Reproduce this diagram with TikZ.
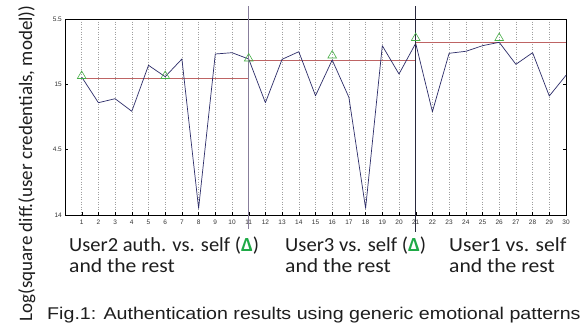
\documentclass[tikz,border=0pt]{standalone}
\usepackage{fontspec}
\setmainfont{Carlito}
\newfontfamily\arialfont{Liberation Sans}
\usetikzlibrary{shapes.geometric}
\definecolor{blueline}{RGB}{45,45,105}
\definecolor{redline}{RGB}{190,100,100}
\definecolor{trigreen}{RGB}{70,175,70}
\definecolor{deltagreen}{RGB}{30,170,70}
\definecolor{sepA}{RGB}{135,125,155}
\definecolor{sepB}{RGB}{40,40,60}
\definecolor{txt}{RGB}{30,30,30}
\tikzset{
  marker/.style={draw=trigreen, regular polygon, regular polygon sides=3, minimum size=10pt, inner sep=0pt, line width=0.6pt},
  gridline/.style={gray!75, dotted, line width=0.5pt},
  ticklab/.style={font=\arialfont\fontsize{6.5}{7}\selectfont, text=gray!40!black, inner sep=0pt},
  caption/.style={font=\fontsize{20}{22}\selectfont, text=txt, inner sep=0pt, anchor=base west, xscale=1.08},
  figcap/.style={font=\arialfont\fontsize{17}{19}\selectfont, text=txt, inner sep=0pt, anchor=base west, xscale=1.155},
}
\newcommand{\gdelta}{{\color{deltagreen}\textbf{Δ}}}
\begin{document}
\begin{tikzpicture}[x=1pt,y=-1pt]
\useasboundingbox[fill=white] (0,0) rectangle (584,324);
% axes box
\begin{scope}[x=16.7pt, xshift=65pt]
  \foreach \i in {1,...,29} \draw[gridline] (\i,19) -- (\i,215);
  \foreach \i in {1,...,30} {
    \draw[line width=0.4pt] (\i,215) -- (\i,212);
    \node[ticklab] (xt\i) at (\i,222) {\i};
  }
  \draw[line width=0.5pt] (0,19) rectangle (30,215);
  \foreach \yy in {84.3,149.3} {
    \draw[line width=0.4pt] (0,\yy) -- (0.2,\yy);
    \draw[line width=0.4pt] (30,\yy) -- (29.8,\yy);
  }
  % red model lines
  \draw[redline, line width=1pt] (1,78.3) -- (11,78.3);
  \draw[redline, line width=1pt] (11,60) -- (21,60);
  \draw[redline, line width=1pt] (21,42) -- (30,42);
  % data line
  \draw[blueline, line width=0.7pt, line join=round] plot coordinates {
    (1,77) (2,102.7) (3,98.7) (4,111.3) (5,65.3) (6,76.7) (7,59) (8,208.3)
    (9,54) (10,52.7) (11,59) (12,102.7) (13,59.3) (14,51.7) (15,95.7)
    (16,60) (17,97.3) (18,208.3) (19,45.7) (20,74) (21,43.3) (22,111.7)
    (23,53.3) (24,51.3) (25,45.7) (26,42.3) (27,64.3) (28,52.7) (29,96) (30,75.3)};
  % separators
  \coordinate (sa1) at (11,6);
  \coordinate (sa2) at (11,229);
  \coordinate (sb1) at (21,6);
  \coordinate (sb2) at (21,232);
  \draw[sepA, line width=1.4pt] (sa1) -- (sa2);
  \draw[sepB, line width=0.8pt] (sb1) -- (sb2);
  % markers
  \node[marker] (m1) at (1,76) {};
  \node[marker] (m6) at (6,76) {};
  \node[marker] (m11) at (11,58.5) {};
  \node[marker] (m16) at (16,55.5) {};
  \node[marker] (m21) at (21,38) {};
  \node[marker] (m26) at (26,38) {};
\end{scope}
% y tick labels
\node[ticklab, anchor=east] (yt1) at (62,19) {5.5};
\node[ticklab, anchor=east] (yt2) at (62,84.3) {15};
\node[ticklab, anchor=east] (yt3) at (62,149.3) {4.5};
\node[ticklab, anchor=east] (yt4) at (62,215) {14};
% axis label
\node[rotate=90, font=\fontsize{19}{21}\selectfont, text=txt, inner sep=0pt, anchor=base] (ylab) at (32,163.5) {Log(square diff.(user credentials, model))};
% captions
\node[caption, xscale=0.95] (c1a) at (69,251.5) {User2 auth. vs. self (\gdelta)};
\node[caption] (c1b) at (69,272) {and the rest};
\node[caption, xscale=0.955] (c2a) at (285,251.5) {User3 vs. self (\gdelta)};
\node[caption] (c2b) at (285,272) {and the rest};
\node[caption] (c3a) at (449,251.5) {User1 vs. self};
\node[caption] (c3b) at (449,272) {and the rest};
\node[figcap] (fig) at (47,319) {Fig.1: Authentication results using generic emotional patterns};
\end{tikzpicture}
\end{document}
